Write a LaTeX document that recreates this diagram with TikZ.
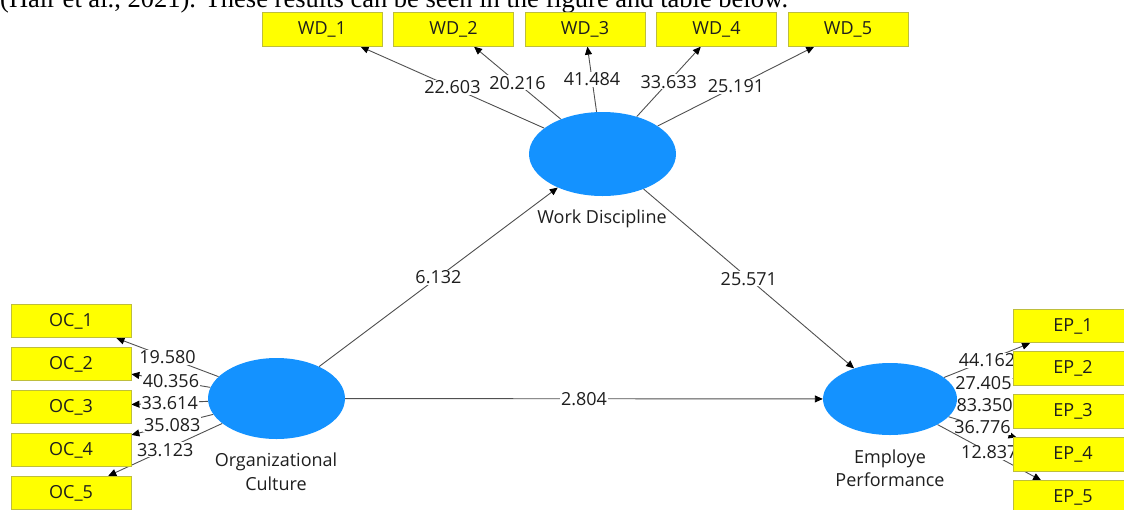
\documentclass[tikz,border=0pt]{standalone}
\usepackage{fontspec}
\setmainfont{Open Sans}
\newfontfamily\bodyserif{Liberation Serif}
\usetikzlibrary{shapes.geometric,arrows.meta}
\pgfdeclarelayer{links}
\pgfsetlayers{links,main}
\definecolor{latent}{RGB}{20,146,255}
\definecolor{indfill}{RGB}{255,255,0}
\definecolor{indline}{RGB}{190,190,60}
\definecolor{linkgray}{RGB}{80,80,80}
\definecolor{txt}{RGB}{30,30,30}
\begin{document}
\begin{tikzpicture}[x=1pt,y=-1pt,
  indicator/.style={draw=indline, line width=0.8pt, fill=indfill,
    minimum width=120pt, minimum height=33.5pt, inner sep=0pt,
    font=\fontsize{18}{21}\selectfont, text=txt},
  construct/.style={ellipse, fill=latent, draw=none, inner sep=0pt},
  caption/.style={anchor=base, inner sep=0pt, text=txt,
    font=\fontsize{18}{21}\selectfont},
  coef/.style={fill=white, inner sep=0.8pt, text=txt,
    font=\fontsize{18}{21}\selectfont},
  link/.style={draw=linkgray, line width=0.9pt,
    -{Triangle[length=8pt,width=7pt,color=black]}},
]
\useasboundingbox (0,0) rectangle (1124,509);
\clip (0,0) rectangle (1124,509);

% running text line above the model
\node[anchor=base west, inner sep=0pt, text=black,
  font=\bodyserif\fontsize{26.5}{30}\selectfont] (intro) at (0,7)
  {(Hair et al., 2021). These results can be seen in the figure and table below.};

% latent variables
\node[construct, minimum width=147pt, minimum height=84pt] (wd) at (602.5,154) {};
\node[construct, minimum width=137pt, minimum height=81pt] (oc) at (276.5,398.5) {};
\node[construct, minimum width=134pt, minimum height=72pt] (ep) at (890,399) {};

\node[caption] (wdcap) at (602,223) {Work Discipline};
\node[caption] (occap1) at (276,466.5) {Organizational};
\node[caption] (occap2) at (276,490) {Culture};
\node[caption] (epcap1) at (890,463) {Employe};
\node[caption] (epcap2) at (890,486.5) {Performance};

% indicators
\foreach \i/\x in {1/322,2/453.5,3/585,4/716.5,5/848}
  \node[indicator] (wd\i) at (\x,29.5) {WD\_\i};
\foreach \i/\y in {1/321,2/364,3/407,4/450,5/493}
  \node[indicator] (oc\i) at (71,\y) {OC\_\i};
\foreach \i/\y in {1/326,2/368.5,3/411.5,4/454.5,5/497.5}
  \node[indicator] (ep\i) at (1073,\y) {EP\_\i};

% outer loadings and path coefficients
\begin{pgfonlayer}{links}
\foreach \i/\v in {1/22.603,2/20.216,3/41.484,4/33.633,5/25.191}
  \draw[link] (wd) -- (wd\i) node[coef, midway] {\v};
\foreach \i/\v in {1/19.580,2/40.356,3/33.614,4/35.083,5/33.123}
  \draw[link] (oc) -- (oc\i) node[coef, midway] {\v};
\foreach \i/\v in {1/44.162,2/27.405,3/83.350,4/36.776,5/12.837}
  \draw[link] (ep) -- (ep\i) node[coef, midway] {\v};
\draw[link] (oc) -- (wd) node[coef, midway] {6.132};
\draw[link] (wd) -- (ep) node[coef, midway] {25.571};
\draw[link] (oc) -- (ep) node[coef, midway] {2.804};
\end{pgfonlayer}
\end{tikzpicture}
\end{document}
